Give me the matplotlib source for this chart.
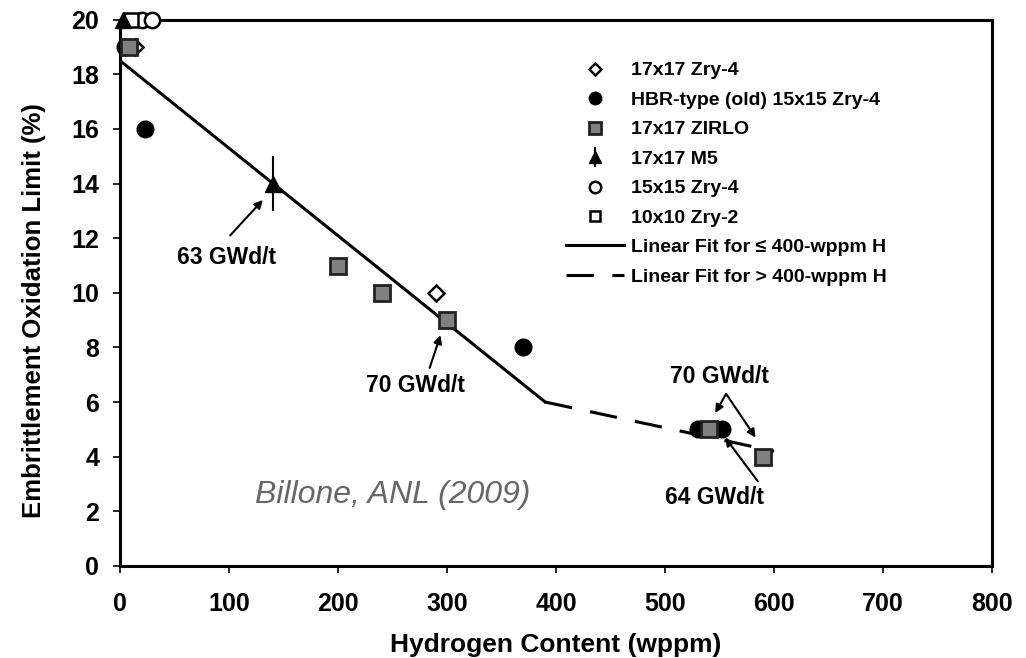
import matplotlib
matplotlib.use("Agg")
import matplotlib.pyplot as plt

plt.rcParams['font.family'] = ['Liberation Sans', 'DejaVu Sans']

# data
zry4_17_x = [14, 290]
zry4_17_y = [19, 10]
hbr_x = [5, 23, 370, 530, 552]
hbr_y = [19, 16, 8, 5, 5]
zirlo_x = [8, 200, 240, 300, 540, 590]
zirlo_y = [19, 11, 10, 9, 5, 4]
m5_x = [3, 140]
m5_y = [20, 14]
m5_err = [0, 1]
zry4_15_x = [20, 29]
zry4_15_y = [20, 20]
zry2_x = [10]
zry2_y = [20]
fit_low_x = [0, 390]
fit_low_y = [18.5, 6]
fit_high_x = [390, 600]
fit_high_y = [6, 4.2]

x_ticks = list(range(0, 801, 100))
y_ticks = list(range(0, 21, 2))

fig = plt.figure(figsize=(10.26, 6.58), dpi=100)
ax = fig.add_axes([0.117, 0.140, 0.850, 0.830])

ax.plot(fit_low_x, fit_low_y, color='black', lw=2.2, zorder=2,
        label='Linear Fit for \u2264 400-wppm H')
ax.plot(fit_high_x, fit_high_y, color='black', lw=2.2, zorder=2,
        dashes=(9, 6), label='Linear Fit for > 400-wppm H')

mk = dict(linestyle='none', clip_on=False, zorder=4)
ax.plot(zry4_17_x, zry4_17_y, marker='D', ms=8, mfc='white', mec='black',
        mew=1.8, label='17x17 Zry-4', **mk)
ax.plot(hbr_x, hbr_y, marker='o', ms=12, mfc='black', mec='black',
        label='HBR-type (old) 15x15 Zry-4', **mk)
ax.plot(zirlo_x, zirlo_y, marker='s', ms=11, mfc='#808080', mec='#222222',
        mew=2, label='17x17 ZIRLO', **mk)
ax.errorbar(m5_x, m5_y, yerr=m5_err, fmt='^', ms=11, color='black',
            ecolor='black', elinewidth=1.5, capsize=0, clip_on=False,
            zorder=5, label='17x17 M5')
ax.plot(zry4_15_x, zry4_15_y, marker='o', ms=11, mfc='white', mec='black',
        mew=1.8, label='15x15 Zry-4', **mk)
ax.plot(zry2_x, zry2_y, marker='s', ms=10, mfc='white', mec='black',
        mew=1.8, label='10x10 Zry-2', **mk)

ax.set_xlim(0, 800)
ax.set_ylim(0, 20)
ax.set_xticks(x_ticks)
ax.set_yticks(y_ticks)
ax.tick_params(direction='out', length=5, width=1.2, labelsize=18)
ax.tick_params(axis='x', pad=14)
ax.tick_params(axis='y', pad=10)
for lab in ax.get_xticklabels() + ax.get_yticklabels():
    lab.set_fontweight('bold')
for sp in ax.spines.values():
    sp.set_linewidth(2.2)

ax.set_xlabel('Hydrogen Content (wppm)', fontsize=19, fontweight='bold',
              labelpad=12)
ax.set_ylabel('Embrittlement Oxidation Limit (%)', fontsize=18.5,
              fontweight='bold')
ax.yaxis.set_label_coords(-0.085, 0.467)

arrow = dict(arrowstyle='-|>', color='black', lw=1.5, mutation_scale=12,
             shrinkA=0, shrinkB=0)
txt = dict(fontsize=16.5, fontweight='bold', ha='center', va='center')
ax.annotate('', xy=(131, 13.4), xytext=(101, 12.1), arrowprops=arrow)
ax.text(98, 11.3, '63 GWd/t', **txt)
ax.annotate('', xy=(294, 8.45), xytext=(284, 7.25), arrowprops=arrow)
ax.text(271, 6.6, '70 GWd/t', **txt)
ax.annotate('', xy=(546, 5.6), xytext=(556, 6.3), arrowprops=arrow)
ax.annotate('', xy=(583, 4.7), xytext=(556, 6.3), arrowprops=arrow)
ax.text(550, 6.95, '70 GWd/t', **txt)
ax.annotate('', xy=(555, 4.7), xytext=(585, 3.1), arrowprops=arrow)
ax.text(545, 2.5, '64 GWd/t', **txt)

ax.text(250, 2.6, 'Billone, ANL (2009)', fontsize=23, style='italic',
        color='#666666', ha='center', va='center')

handles, labels = ax.get_legend_handles_labels()
order = [labels.index(l) for l in ['17x17 Zry-4', 'HBR-type (old) 15x15 Zry-4',
                                    '17x17 ZIRLO', '17x17 M5', '15x15 Zry-4',
                                    '10x10 Zry-2',
                                    'Linear Fit for \u2264 400-wppm H',
                                    'Linear Fit for > 400-wppm H']]
leg = ax.legend([handles[i] for i in order], [labels[i] for i in order],
                loc='upper left', bbox_to_anchor=(0.491, 0.955),
                frameon=False, markerscale=0.75, handlelength=3.0,
                handletextpad=0.35, labelspacing=0.61,
                prop={'size': 14, 'weight': 'bold'})

fig.savefig('out.png', dpi=100)
